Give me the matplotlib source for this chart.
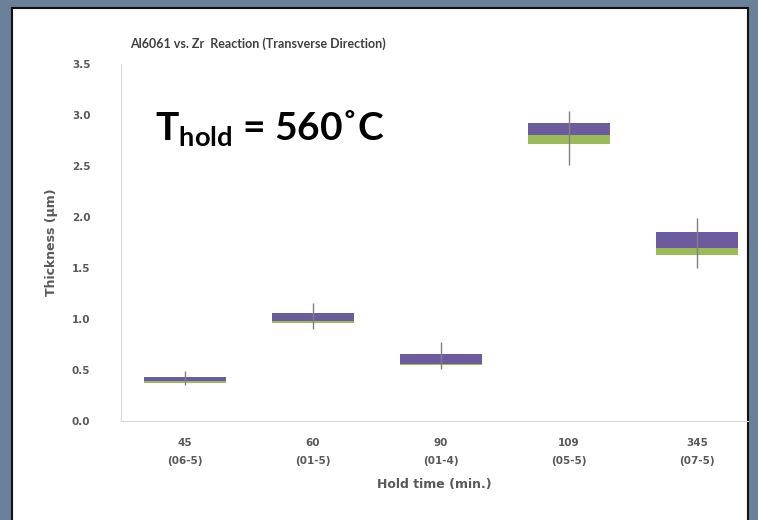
import matplotlib
matplotlib.use("Agg")
import matplotlib.pyplot as plt
from matplotlib.patches import Rectangle

# hold time categories (sample id underneath)
hold_times = ["45", "60", "90", "109", "345"]
samples = ["(06-5)", "(01-5)", "(01-4)", "(05-5)", "(07-5)"]

# box plot numbers (thickness, um)
lows = [0.35, 0.90, 0.51, 2.51, 1.50]
q1s = [0.37, 0.96, 0.55, 2.72, 1.63]
medians = [0.39, 0.98, 0.56, 2.80, 1.70]
q3s = [0.43, 1.06, 0.66, 2.92, 1.85]
highs = [0.49, 1.16, 0.77, 3.04, 1.99]

y_ticks = [0.0, 0.5, 1.0, 1.5, 2.0, 2.5, 3.0, 3.5]

plt.rcParams['mathtext.fontset'] = 'custom'
plt.rcParams['mathtext.rm'] = 'Lato:bold'
plt.rcParams['mathtext.it'] = 'Lato:bold'
plt.rcParams['mathtext.bf'] = 'Lato:bold'

W, H = 758, 520
fig = plt.figure(figsize=(W / 100, H / 100), dpi=100)
fig.patch.set_facecolor('#6b8199')

# white slide panel
fig.patches.append(Rectangle((12 / W, -0.05), 736 / W, 1.05 - 8 / H,
                             transform=fig.transFigure, facecolor='white',
                             edgecolor='#111111', linewidth=1.5, zorder=-5))

ax = fig.add_axes([121 / W, 99 / H, 627 / W, 357 / H])
ax.set_facecolor('none')
ax.set_zorder(2)

x = list(range(len(hold_times)))
green = [m - q for m, q in zip(medians, q1s)]
purple = [q - m for q, m in zip(q3s, medians)]
ax.bar(x, green, bottom=q1s, width=0.64, color='#9bbb59', zorder=2)
ax.bar(x, purple, bottom=medians, width=0.64, color='#6c5c9e', zorder=2)
ax.vlines(x, lows, highs, color='#808080', linewidth=1.0, zorder=3)

ax.set_xlim(-0.5, 4.4)
ax.set_ylim(0, 3.5)
ax.set_yticks(y_ticks)
ax.set_yticklabels(["%.1f" % v for v in y_ticks], fontsize=7.5, color='#595959',
                   fontweight='bold')
ax.set_xticks(x)
ax.set_xticklabels([h + "\n" + s for h, s in zip(hold_times, samples)],
                   fontsize=7.5, color='#595959', fontweight='bold',
                   linespacing=2.1)
ax.tick_params(axis='both', length=0)
ax.tick_params(axis='y', pad=22)
ax.tick_params(axis='x', pad=12)

for side in ['top', 'right']:
    ax.spines[side].set_visible(False)
ax.spines['left'].set_color('#d9d9d9')
ax.spines['bottom'].set_color('#d9d9d9')

ax.set_ylabel("Thickness (\u03bcm)", fontsize=9, color='#595959',
              fontweight='bold', labelpad=10)
ax.set_xlabel("Hold time (min.)", fontsize=9, color='#595959',
              fontweight='bold', labelpad=8)

fig.text(258 / W, 1 - 44 / H, "Al6061 vs. Zr  Reaction (Transverse Direction)",
         ha='center', va='center', fontsize=9, color='#404040',
         fontweight='bold', family=['Lato', 'DejaVu Sans'])

fig.text(155 / W, 1 - 140 / H, "T$_{\\mathrm{hold}}$ = 560\u02daC",
         ha='left', va='baseline', fontsize=28, color='black',
         fontweight='bold', family=['Lato', 'DejaVu Sans'])

fig.savefig("out.png", dpi=100, facecolor=fig.get_facecolor())
